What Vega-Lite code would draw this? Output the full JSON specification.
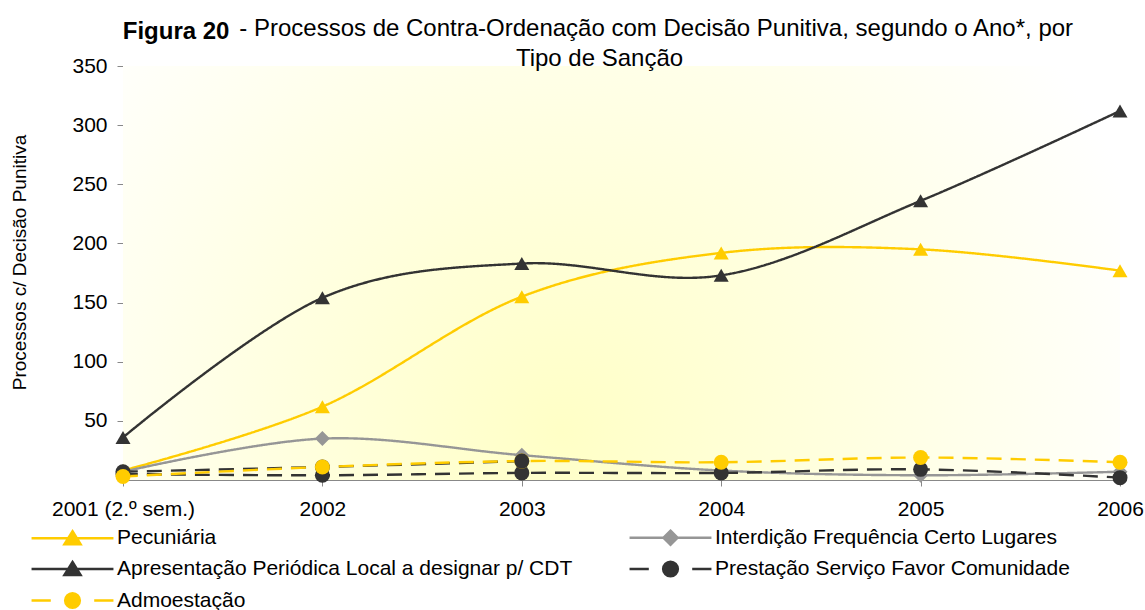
{
  "$schema": "https://vega.github.io/schema/vega-lite/v6.json",
  "width": 997,
  "height": 414,
  "autosize": {"type": "none"},
  "padding": {"left": 123, "top": 66, "right": 25, "bottom": 130},
  "background": "#ffffff",
  "config": {"font": "Liberation Sans", "view": {"stroke": null}},
  "title": {
    "text": "Figura 20\u00a0\u00a0\u00a0\u00a0\u00a0\u00a0\u00a0\u00a0\u00a0\u00a0\u00a0\u00a0\u00a0\u00a0\u00a0\u00a0\u00a0\u00a0\u00a0\u00a0\u00a0\u00a0\u00a0\u00a0\u00a0\u00a0\u00a0\u00a0\u00a0\u00a0\u00a0\u00a0\u00a0\u00a0\u00a0\u00a0\u00a0\u00a0\u00a0\u00a0\u00a0\u00a0\u00a0\u00a0\u00a0\u00a0\u00a0\u00a0\u00a0\u00a0\u00a0\u00a0\u00a0\u00a0\u00a0\u00a0\u00a0\u00a0\u00a0\u00a0\u00a0\u00a0\u00a0\u00a0\u00a0\u00a0\u00a0\u00a0\u00a0\u00a0\u00a0\u00a0\u00a0\u00a0\u00a0\u00a0\u00a0\u00a0\u00a0\u00a0\u00a0\u00a0\u00a0\u00a0\u00a0\u00a0\u00a0\u00a0\u00a0\u00a0\u00a0\u00a0\u00a0\u00a0\u00a0\u00a0\u00a0\u00a0\u00a0\u00a0\u00a0\u00a0\u00a0\u00a0\u00a0\u00a0\u00a0\u00a0\u00a0\u00a0\u00a0\u00a0\u00a0\u00a0\u00a0\u00a0\u00a0\u00a0\u00a0\u00a0\u00a0\u00a0\u00a0\u00a0\u00a0\u00a0\u00a0\u200b",
    "subtitle": ["\u200b\u00a0\u00a0\u00a0\u00a0\u00a0\u00a0\u00a0\u00a0\u00a0\u00a0\u00a0\u00a0\u00a0\u00a0\u00a0\u00a0\u00a0- Processos de Contra-Ordenação com Decisão Punitiva, segundo o Ano*, por", "Tipo de Sanção"],
    "anchor": "middle",
    "frame": "group",
    "dx": -22,
    "offset": -19,
    "font": "Liberation Sans",
    "fontSize": 24,
    "fontWeight": "bold",
    "color": "#000000",
    "lineHeight": 30,
    "subtitleFont": "Liberation Sans",
    "subtitleFontSize": 24,
    "subtitleFontWeight": "normal",
    "subtitleColor": "#000000",
    "subtitleLineHeight": 30,
    "subtitlePadding": -27
  },
  "data": {
    "values": [
      {"serie": "Pecuniária", "ano": "2001 (2.º sem.)", "valor": 8},
      {"serie": "Pecuniária", "ano": "2002", "valor": 62},
      {"serie": "Pecuniária", "ano": "2003", "valor": 155},
      {"serie": "Pecuniária", "ano": "2004", "valor": 192},
      {"serie": "Pecuniária", "ano": "2005", "valor": 195},
      {"serie": "Pecuniária", "ano": "2006", "valor": 177},
      {"serie": "Interdição Frequência Certo Lugares", "ano": "2001 (2.º sem.)", "valor": 7},
      {"serie": "Interdição Frequência Certo Lugares", "ano": "2002", "valor": 35},
      {"serie": "Interdição Frequência Certo Lugares", "ano": "2003", "valor": 21},
      {"serie": "Interdição Frequência Certo Lugares", "ano": "2004", "valor": 8},
      {"serie": "Interdição Frequência Certo Lugares", "ano": "2005", "valor": 4},
      {"serie": "Interdição Frequência Certo Lugares", "ano": "2006", "valor": 7},
      {"serie": "Apresentação Periódica Local a designar p/ CDT", "ano": "2001 (2.º sem.)", "valor": 36},
      {"serie": "Apresentação Periódica Local a designar p/ CDT", "ano": "2002", "valor": 154},
      {"serie": "Apresentação Periódica Local a designar p/ CDT", "ano": "2003", "valor": 183},
      {"serie": "Apresentação Periódica Local a designar p/ CDT", "ano": "2004", "valor": 173},
      {"serie": "Apresentação Periódica Local a designar p/ CDT", "ano": "2005", "valor": 236},
      {"serie": "Apresentação Periódica Local a designar p/ CDT", "ano": "2006", "valor": 312},
      {"serie": "Prestação Serviço Favor Comunidade", "ano": "2001 (2.º sem.)", "valor": 5},
      {"serie": "Prestação Serviço Favor Comunidade", "ano": "2002", "valor": 4},
      {"serie": "Prestação Serviço Favor Comunidade", "ano": "2003", "valor": 6},
      {"serie": "Prestação Serviço Favor Comunidade", "ano": "2004", "valor": 6},
      {"serie": "Prestação Serviço Favor Comunidade", "ano": "2005", "valor": 9},
      {"serie": "Prestação Serviço Favor Comunidade", "ano": "2006", "valor": 2},
      {"serie": "Prestação Serviço Favor Comunidade (2)", "ano": "2001 (2.º sem.)", "valor": 7},
      {"serie": "Prestação Serviço Favor Comunidade (2)", "ano": "2002", "valor": 11},
      {"serie": "Admoestação", "ano": "2001 (2.º sem.)", "valor": 3},
      {"serie": "Admoestação", "ano": "2002", "valor": 11},
      {"serie": "Admoestação", "ano": "2003", "valor": 16},
      {"serie": "Prestação Serviço Favor Comunidade (2)", "ano": "2003", "valor": 16},
      {"serie": "Admoestação", "ano": "2004", "valor": 15},
      {"serie": "Admoestação", "ano": "2005", "valor": 19},
      {"serie": "Admoestação", "ano": "2006", "valor": 15}
    ]
  },
  "layer": [
    {
      "data": {"values": [{"fundo": "área"}]},
      "mark": {
        "type": "rect",
        "color": {
          "gradient": "radial",
          "x1": 0.44, "y1": 0.66, "r1": 0,
          "x2": 0.44, "y2": 0.66, "r2": 0.62,
          "stops": [
            {"offset": 0, "color": "#FFFFC6"},
            {"offset": 0.5, "color": "#FFFFE2"},
            {"offset": 1, "color": "#FFFFFF"}
          ]
        }
      },
      "encoding": {
        "x": {"value": 0},
        "x2": {"value": "width"},
        "y": {"value": 0},
        "y2": {"value": "height"}
      }
    },
    {
      "mark": {"type": "line", "interpolate": "cardinal", "strokeWidth": 2.4},
      "encoding": {
        "x": {
          "field": "ano", "type": "ordinal",
          "sort": ["2001 (2.º sem.)", "2002", "2003", "2004", "2005", "2006"],
          "scale": {"type": "point", "padding": 0},
          "axis": {"title": null, "labelAngle": 0, "labelFontSize": 21, "labelColor": "#000000", "labelFont": "Liberation Sans", "tickSize": 6, "tickColor": "#888888", "domainColor": "#888888", "labelPadding": 12, "grid": false, "labelOverlap": false}
        },
        "y": {
          "field": "valor", "type": "quantitative",
          "scale": {"domain": [0, 350], "nice": false},
          "axis": {"values": [50, 100, 150, 200, 250, 300, 350], "grid": false, "tickSize": 6, "tickColor": "#888888", "domainColor": "#888888", "labelFontSize": 21, "labelColor": "#000000", "labelFont": "Liberation Sans", "labelPadding": 10, "title": "Processos c/ Decisão Punitiva", "titleFontSize": 19, "titleFontWeight": "normal", "titleColor": "#000000", "titleFont": "Liberation Sans", "titlePadding": 42, "titleY": 196}
        },
        "color": {
          "field": "serie", "type": "nominal",
          "scale": {
            "domain": ["Pecuniária", "Interdição Frequência Certo Lugares", "Apresentação Periódica Local a designar p/ CDT", "Prestação Serviço Favor Comunidade", "Admoestação", "Prestação Serviço Favor Comunidade (2)"],
            "range": ["#FFCC00", "#969696", "#333333", "#333333", "#FFCC00", "#333333"]
          },
          "legend": null
        },
        "strokeDash": {
          "field": "serie", "type": "nominal",
          "scale": {
            "domain": ["Pecuniária", "Interdição Frequência Certo Lugares", "Apresentação Periódica Local a designar p/ CDT", "Prestação Serviço Favor Comunidade", "Admoestação", "Prestação Serviço Favor Comunidade (2)"],
            "range": [[1, 0], [1, 0], [1, 0], [15, 9], [15, 9], [15, 9]]
          },
          "legend": null
        }
      }
    },
    {
      "mark": {"type": "point", "filled": true, "opacity": 1, "size": 225},
      "encoding": {
        "x": {"field": "ano", "type": "ordinal", "sort": ["2001 (2.º sem.)", "2002", "2003", "2004", "2005", "2006"]},
        "y": {"field": "valor", "type": "quantitative"},
        "color": {"field": "serie", "type": "nominal", "legend": null},
        "shape": {
          "field": "serie", "type": "nominal",
          "scale": {
            "domain": ["Pecuniária", "Interdição Frequência Certo Lugares", "Apresentação Periódica Local a designar p/ CDT", "Prestação Serviço Favor Comunidade", "Admoestação", "Prestação Serviço Favor Comunidade (2)"],
            "range": ["triangle-up", "diamond", "triangle-up", "circle", "circle", "circle"]
          },
          "legend": null
        }
      }
    },
    {
      "transform": [{"filter": "false"}],
      "mark": {"type": "point", "filled": true, "opacity": 1},
      "encoding": {
        "shape": {
          "field": "serie", "type": "nominal",
          "scale": {
            "domain": ["Pecuniária", "Interdição Frequência Certo Lugares", "Apresentação Periódica Local a designar p/ CDT", "Prestação Serviço Favor Comunidade", "Admoestação", "Prestação Serviço Favor Comunidade (2)"],
            "range": [
              "M-5.85,0L5.85,0M0,-1L1.15,0.85L-1.15,0.85Z",
              "M-5.85,0L5.85,0M0,-1L1,0L0,1L-1,0Z",
              "M-5.85,0L5.85,0M0,-1L1.15,0.85L-1.15,0.85Z",
              "M-5.85,0L-3.1,0M3.1,0L5.85,0M1.05,0A1.05,1.05,0,1,1,-1.05,0A1.05,1.05,0,1,1,1.05,0Z",
              "M-5.85,0L-3.1,0M3.1,0L5.85,0M1.05,0A1.05,1.05,0,1,1,-1.05,0A1.05,1.05,0,1,1,1.05,0Z",
              "M-5.85,0L-3.1,0M3.1,0L5.85,0M1.05,0A1.05,1.05,0,1,1,-1.05,0A1.05,1.05,0,1,1,1.05,0Z"
            ]
          },
          "legend": {
            "title": null,
            "orient": "none",
            "direction": "horizontal",
            "legendX": -61,
            "legendY": 461,
            "columns": 2,
            "columnPadding": 51,
            "rowPadding": 6.5,
            "symbolSize": 196,
            "symbolStrokeWidth": 2.5,
            "labelFontSize": 21,
            "labelFont": "Liberation Sans",
            "labelColor": "#000000",
            "labelOffset": 34,
            "labelLimit": 1000,
            "values": ["Pecuniária", "Interdição Frequência Certo Lugares", "Apresentação Periódica Local a designar p/ CDT", "Prestação Serviço Favor Comunidade", "Admoestação"]
          }
        },
        "fill": {
          "field": "serie", "type": "nominal",
          "scale": {
            "domain": ["Pecuniária", "Interdição Frequência Certo Lugares", "Apresentação Periódica Local a designar p/ CDT", "Prestação Serviço Favor Comunidade", "Admoestação", "Prestação Serviço Favor Comunidade (2)"],
            "range": ["#FFCC00", "#969696", "#333333", "#333333", "#FFCC00", "#333333"]
          }
        },
        "stroke": {
          "field": "serie", "type": "nominal",
          "scale": {
            "domain": ["Pecuniária", "Interdição Frequência Certo Lugares", "Apresentação Periódica Local a designar p/ CDT", "Prestação Serviço Favor Comunidade", "Admoestação", "Prestação Serviço Favor Comunidade (2)"],
            "range": ["#FFCC00", "#969696", "#333333", "#333333", "#FFCC00", "#333333"]
          }
        }
      }
    }
  ],
  "resolve": {
    "scale": {"shape": "independent", "fill": "independent", "stroke": "independent"},
    "legend": {"shape": "independent", "fill": "independent", "stroke": "independent"}
  }
}
